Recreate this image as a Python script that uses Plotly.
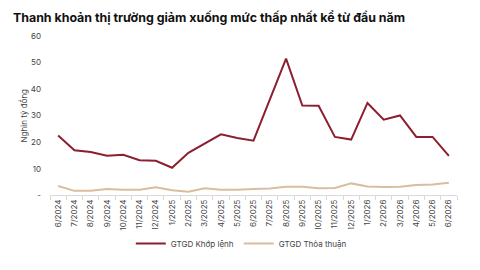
import plotly.graph_objects as go

months = ["6/2024", "7/2024", "8/2024", "9/2024", "10/2024", "11/2024", "12/2024",
          "1/2025", "2/2025", "3/2025", "4/2025", "5/2025", "6/2025", "7/2025",
          "8/2025", "9/2025", "10/2025", "11/2025", "12/2025", "1/2026", "2/2026",
          "3/2026", "4/2026", "5/2026", "6/2026"]
khop_lenh = [22.5, 17.0, 16.3, 14.9, 15.3, 13.2, 13.0, 10.4, 16.0, 19.4, 23.0, 21.6,
             20.6, 36.0, 51.5, 33.8, 33.7, 22.0, 21.0, 34.8, 28.5, 30.1, 22.0, 22.0, 14.9]
thoa_thuan = [3.5, 1.7, 1.7, 2.4, 2.1, 2.1, 3.0, 1.9, 1.4, 2.7, 2.1, 2.1, 2.4, 2.6,
              3.2, 3.2, 2.7, 2.8, 4.5, 3.3, 3.1, 3.2, 3.9, 4.1, 4.7]
y_ticks = [0, 10, 20, 30, 40, 50, 60]
y_ticktext = ["-", "10", "20", "30", "40", "50", "60"]

RED = "#8C1F2F"
TAN = "#D9BD9E"
FONT = "Inter, Liberation Sans, sans-serif"

fig = go.Figure()
fig.add_trace(go.Scatter(x=months, y=khop_lenh, mode="lines", name="GTGD Khớp lệnh",
                         line=dict(color=RED, width=2)))
fig.add_trace(go.Scatter(x=months, y=thoa_thuan, mode="lines", name="GTGD Thỏa thuận",
                         line=dict(color=TAN, width=2)))

fig.update_layout(
    width=480, height=270,
    margin=dict(l=50, r=23, t=36, b=50),
    paper_bgcolor="white", plot_bgcolor="white",
    font=dict(family=FONT, size=8, color="#444444"),
    title=dict(text="<b>Thanh khoản thị trường giảm xuống mức thấp nhất kể từ đầu năm</b>",
               x=0.027, xanchor="left", y=0.935, yanchor="middle",
               font=dict(family=FONT, size=12.4, color="#111111")),
    showlegend=True,
    legend=dict(orientation="h", x=0.47, xanchor="center", y=-0.147, yanchor="middle",
                font=dict(size=8, color="#444444"), itemwidth=30,
                tracegroupgap=0),
    xaxis=dict(type="category", range=[-0.5, len(months) - 0.5], automargin=False,
               tickangle=-90, showgrid=False, showline=True,
               linecolor="#D9D9D9", linewidth=1, ticks="outside", ticklen=4,
               tickcolor="#D9D9D9", tickson="boundaries",
               tickfont=dict(size=8, color="#444444")),
    yaxis=dict(range=[0, 60], domain=[0.1196, 1], tickvals=y_ticks, ticktext=y_ticktext,
               showgrid=False, automargin=False,
               zeroline=False, showline=False, ticks="", ticklabelstandoff=8,
               title=dict(text="Nghìn tỷ đồng", font=dict(size=8, color="#444444"), standoff=1),
               tickfont=dict(size=8, color="#444444")),
)

fig.write_html("out.html")
